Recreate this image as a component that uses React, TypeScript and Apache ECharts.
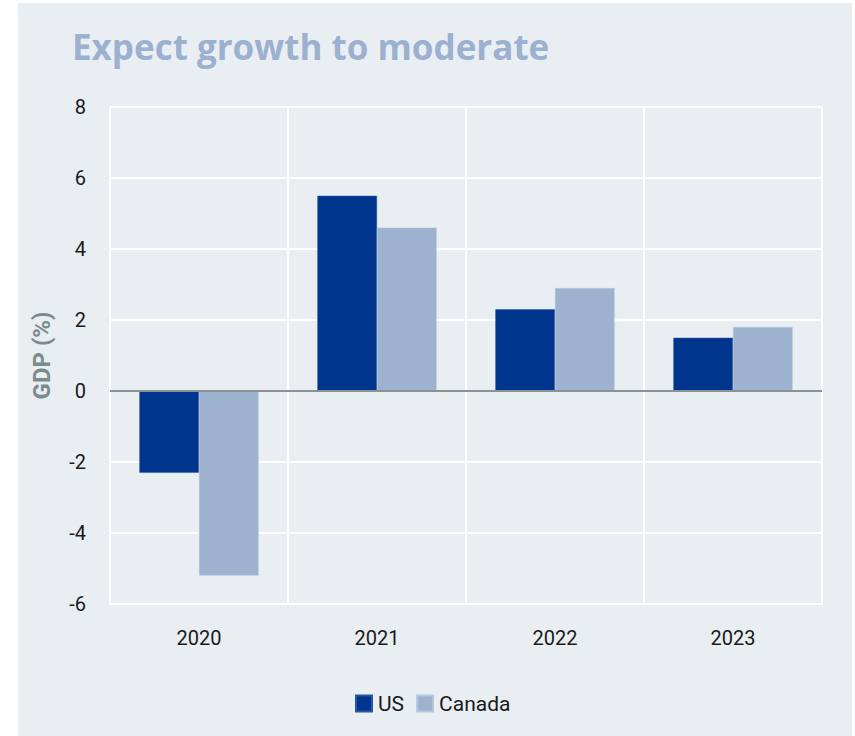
import React, { useEffect, useRef } from "react";
import * as echarts from "echarts";

const categories = ["2020", "2021", "2022", "2023"];
const usValues = [-2.3, 5.5, 2.3, 1.5];
const canadaValues = [-5.2, 4.6, 2.9, 1.8];
const seriesNames = ["US", "Canada"];
const titleText = "Expect growth to moderate";
const yAxisName = "GDP (%)";

const FONT = "Roboto, 'Liberation Sans', sans-serif";

export default function App() {
  const ref = useRef<HTMLDivElement>(null);
  useEffect(() => {
    if (!ref.current) return;
    document.body.style.margin = "0";
    const chart = echarts.init(ref.current, undefined, { renderer: "svg" });
    chart.setOption({
      animation: false,
      title: {
        text: titleText,
        left: 67,
        top: 24,
        textStyle: {
          fontFamily: "'Open Sans', 'Noto Sans', sans-serif",
          fontWeight: "bold",
          fontSize: 35,
          color: "#9bb1cf",
        },
      },
      legend: {
        data: seriesNames,
        left: 350,
        top: 688,
        icon: "rect",
        itemWidth: 16,
        itemHeight: 16,
        itemGap: 12,
        textStyle: { fontFamily: FONT, fontSize: 21, color: "#1a1a1a", padding: [0, 0, 0, 1] },
      },
      grid: {
        left: 110,
        right: 33,
        top: 107,
        bottom: 132,
        show: true,
        borderColor: "#ffffff",
        borderWidth: 2,
        backgroundColor: "transparent",
      },
      xAxis: {
        type: "category",
        data: categories,
        axisTick: { show: false },
        axisLine: { show: false },
        splitLine: { show: true, lineStyle: { color: "#ffffff", width: 2 } },
        axisLabel: { fontFamily: FONT, fontSize: 20, color: "#1a1a1a", margin: 24 },
      },
      yAxis: {
        type: "value",
        min: -6,
        max: 8,
        interval: 2,
        name: yAxisName,
        nameLocation: "middle",
        nameGap: 56,
        nameTextStyle: { fontFamily: FONT, fontSize: 24, fontWeight: "bold", color: "#7d8a8c" },
        axisLine: { show: false },
        axisTick: { show: false },
        splitLine: { show: true, lineStyle: { color: "#ffffff", width: 2 } },
        axisLabel: { fontFamily: FONT, fontSize: 20, color: "#1a1a1a", margin: 24 },
      },
      series: [
        {
          name: seriesNames[0],
          type: "bar",
          data: usValues,
          barGap: "0%",
          barCategoryGap: "33%",
          itemStyle: { color: "#00358e", borderColor: "#2a55a0", borderWidth: 0.5 },
          markLine: {
            silent: true,
            symbol: "none",
            label: { show: false },
            lineStyle: { color: "#8a9292", width: 2, type: "solid" },
            data: [{ yAxis: 0 }],
            z: 10,
          },
        },
        {
          name: seriesNames[1],
          type: "bar",
          data: canadaValues,
          itemStyle: { color: "#9cb2ce", borderColor: "#b6c7de", borderWidth: 0.5 },
        },
      ],
    });
    return () => chart.dispose();
  }, []);
  return (
    <div style={{ position: "relative", width: 855, height: 736, background: "#ffffff" }}>
      <div
        style={{
          position: "absolute",
          left: 18,
          top: 3,
          width: 834,
          height: 733,
          background: "#e9eef3",
        }}
      />
      <div ref={ref} style={{ position: "absolute", left: 0, top: 0, width: 855, height: 736 }} />
    </div>
  );
}
